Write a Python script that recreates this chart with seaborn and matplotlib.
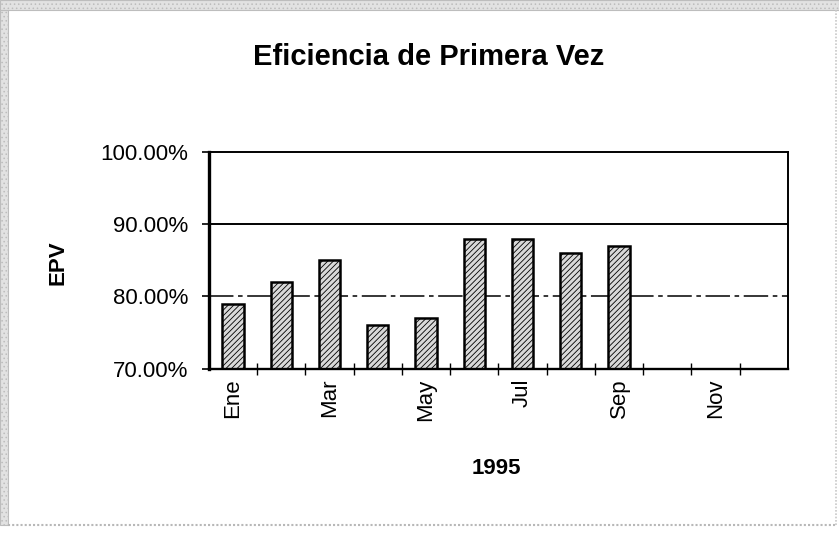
import matplotlib
matplotlib.use("Agg")
import matplotlib.pyplot as plt
import numpy as np
import pandas as pd
import seaborn as sns
from matplotlib.patches import Rectangle
from matplotlib.lines import Line2D

meses = ["Ene", "Feb", "Mar", "Abr", "May", "Jun", "Jul", "Ago", "Sep", "Oct", "Nov", "Dic"]
epv = [79, 82, 85, 76, 77, 88, 88, 86, 87, np.nan, np.nan, np.nan]
etiquetas = ["Ene", "", "Mar", "", "May", "", "Jul", "", "Sep", "", "Nov", ""]
yticks = [70, 80, 90, 100]

datos = pd.DataFrame({"mes": meses, "epv": epv})

sns.set_style("white")
plt.rcParams["font.family"] = ["Liberation Sans", "DejaVu Sans"]
plt.rcParams["text.color"] = "black"
plt.rcParams["axes.labelcolor"] = "black"
plt.rcParams["xtick.color"] = "black"
plt.rcParams["ytick.color"] = "black"
plt.rcParams["hatch.linewidth"] = 0.6
plt.rcParams["hatch.color"] = "#444444"

fig = plt.figure(figsize=(8.39, 5.36), dpi=100)
ax = fig.add_axes([0.249, 0.312, 0.690, 0.405])

sns.barplot(data=datos, x="mes", y="epv", order=meses, ax=ax, width=0.44,
            color="#d9d9d9", edgecolor="black", linewidth=1.8, errorbar=None,
            saturation=1)
for barra in ax.patches:
    barra.set_hatch("//////")

ax.set_ylim(70, 100)
ax.set_xlim(-0.5, 11.5)
ax.set_yticks(yticks)
ax.set_yticklabels(["%.2f%%" % v for v in yticks], fontsize=16)
ax.set_xticks(range(12))
ax.set_xticklabels(etiquetas, rotation=90, fontsize=16)
ax.set_xticks(np.arange(0.5, 11.5, 1), minor=True)
ax.tick_params(axis="x", which="major", length=0, pad=7, bottom=True)
ax.tick_params(axis="x", which="minor", length=8, direction="inout", width=1, bottom=True)
ax.tick_params(axis="y", length=5, direction="out", width=1.2, left=True, pad=10)

ax.axhline(90, color="black", lw=1.4, zorder=0)
ax.axhline(80, color="black", lw=1.1, ls=(0, (16, 3, 3, 3)), zorder=0)

for lado in ["left", "bottom", "top", "right"]:
    ax.spines[lado].set_color("black")
    ax.spines[lado].set_visible(True)
ax.spines["left"].set_linewidth(2.4)
ax.spines["bottom"].set_linewidth(1.7)
ax.spines["top"].set_linewidth(1.4)
ax.spines["right"].set_linewidth(1.4)

ax.set_xlabel("1995", fontsize=16, fontweight="bold")
ax.set_ylabel("EPV", fontsize=16, fontweight="bold")
ax.xaxis.set_label_coords(0.496, -0.41)
ax.yaxis.set_label_coords(-0.242, 0.49)
fig.text(0.511, 0.894, "Eficiencia de Primera Vez", ha="center", va="center",
         fontsize=21, fontweight="bold")

# marco punteado de la hoja
fig.patches.append(Rectangle((0, 0.982), 1, 0.018, transform=fig.transFigure,
                             facecolor="#e2e2e2", edgecolor="#bdbdbd", lw=0.8,
                             hatch="...."))
fig.patches.append(Rectangle((0, 0.02), 0.01, 0.962, transform=fig.transFigure,
                             facecolor="#e2e2e2", edgecolor="#bdbdbd", lw=0.8,
                             hatch="...."))
fig.lines.append(Line2D([0.01, 0.998], [0.021, 0.021], transform=fig.transFigure,
                        color="#b8b8b8", lw=1.5, ls=(0, (1, 1))))
fig.lines.append(Line2D([0.997, 0.997], [0.021, 0.982], transform=fig.transFigure,
                        color="#c8c8c8", lw=1.2, ls=(0, (1, 1))))

fig.savefig("out.png", dpi=100)
